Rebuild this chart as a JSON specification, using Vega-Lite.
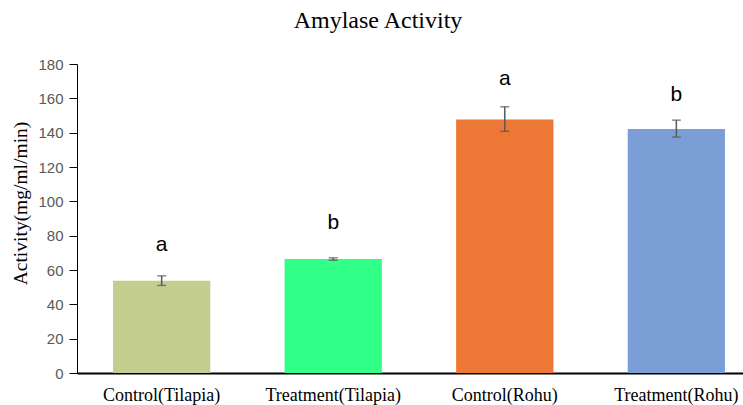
{
  "$schema": "https://vega.github.io/schema/vega-lite/v6.json",
  "width": 666,
  "height": 309,
  "autosize": {"type": "none"},
  "padding": {"left": 77, "top": 64, "right": 0, "bottom": 32},
  "background": "white",
  "config": {
    "view": {"stroke": null},
    "axisY": {
      "tickCount": 10,
      "labelOverlap": false,
      "grid": false,
      "titleFont": "Liberation Serif",
      "titleFontSize": 19.5,
      "titleFontWeight": "normal",
      "titleColor": "#000000",
      "titleAlign": "center",
      "titleBaseline": "middle",
      "titleAngle": -90,
      "titleX": -57,
      "titleY": 139,
      "labelFont": "Liberation Sans",
      "labelFontSize": 15,
      "labelColor": "#595959",
      "labelPadding": 6,
      "labelBound": false,
      "tickSize": 8,
      "tickColor": "#000000",
      "domainColor": "#000000"
    }
  },
  "title": {
    "text": "Amylase Activity",
    "font": "Liberation Serif",
    "fontSize": 24,
    "fontWeight": "normal",
    "color": "#000000",
    "anchor": "middle",
    "frame": "group",
    "dx": -32,
    "offset": 24
  },
  "data": {
    "values": [
      {"group": "Control(Tilapia)", "activity": 53.8, "lower": 51.0, "upper": 56.6, "letter": "a", "letterPos": 71.3},
      {"group": "Treatment(Tilapia)", "activity": 66.4, "lower": 65.7, "upper": 67.1, "letter": "b", "letterPos": 83.7},
      {"group": "Control(Rohu)", "activity": 147.7, "lower": 140.8, "upper": 155.1, "letter": "a", "letterPos": 167.7},
      {"group": "Treatment(Rohu)", "activity": 142.1, "lower": 137.4, "upper": 147.3, "letter": "b", "letterPos": 158.6}
    ]
  },
  "encoding": {
    "x": {
      "field": "group",
      "type": "nominal",
      "sort": null,
      "scale": {"range": [0, 684], "paddingInner": 0.433, "paddingOuter": 0.21},
      "axis": {
        "title": null,
        "labelAngle": 0,
        "labelFont": "Liberation Serif",
        "labelFontSize": 18,
        "labelColor": "#000000",
        "labelPadding": 13,
        "labelOverlap": false,
        "ticks": false,
        "domainColor": "#000000",
        "domainWidth": 2
      }
    }
  },
  "layer": [
    {
      "mark": {"type": "bar"},
      "encoding": {
        "y": {
          "field": "activity",
          "type": "quantitative",
          "scale": {"domain": [0, 180], "nice": false},
          "axis": {"title": "Activity(mg/ml/min)", "values": [0, 20, 40, 60, 80, 100, 120, 140, 160, 180]}
        },
        "color": {
          "field": "group",
          "type": "nominal",
          "sort": null,
          "scale": {"range": ["#C2CD8F", "#30FF88", "#ED7735", "#7C9ED7"]},
          "legend": null
        }
      }
    },
    {
      "mark": {"type": "rule", "color": "#595959", "strokeWidth": 1.5},
      "encoding": {
        "y": {"field": "lower", "type": "quantitative", "axis": {"title": "Activity(mg/ml/min)", "values": [0, 20, 40, 60, 80, 100, 120, 140, 160, 180]}},
        "y2": {"field": "upper"}
      }
    },
    {
      "mark": {"type": "tick", "color": "#595959", "thickness": 1.5, "size": 9},
      "encoding": {"y": {"field": "lower", "type": "quantitative", "axis": {"title": "Activity(mg/ml/min)", "values": [0, 20, 40, 60, 80, 100, 120, 140, 160, 180]}}}
    },
    {
      "mark": {"type": "tick", "color": "#595959", "thickness": 1.5, "size": 9},
      "encoding": {"y": {"field": "upper", "type": "quantitative", "axis": {"title": "Activity(mg/ml/min)", "values": [0, 20, 40, 60, 80, 100, 120, 140, 160, 180]}}}
    },
    {
      "mark": {"type": "text", "font": "Liberation Sans", "fontSize": 21, "color": "#000000", "baseline": "alphabetic", "align": "center"},
      "encoding": {
        "y": {"field": "letterPos", "type": "quantitative", "axis": {"title": "Activity(mg/ml/min)", "values": [0, 20, 40, 60, 80, 100, 120, 140, 160, 180]}},
        "text": {"field": "letter"}
      }
    }
  ]
}
